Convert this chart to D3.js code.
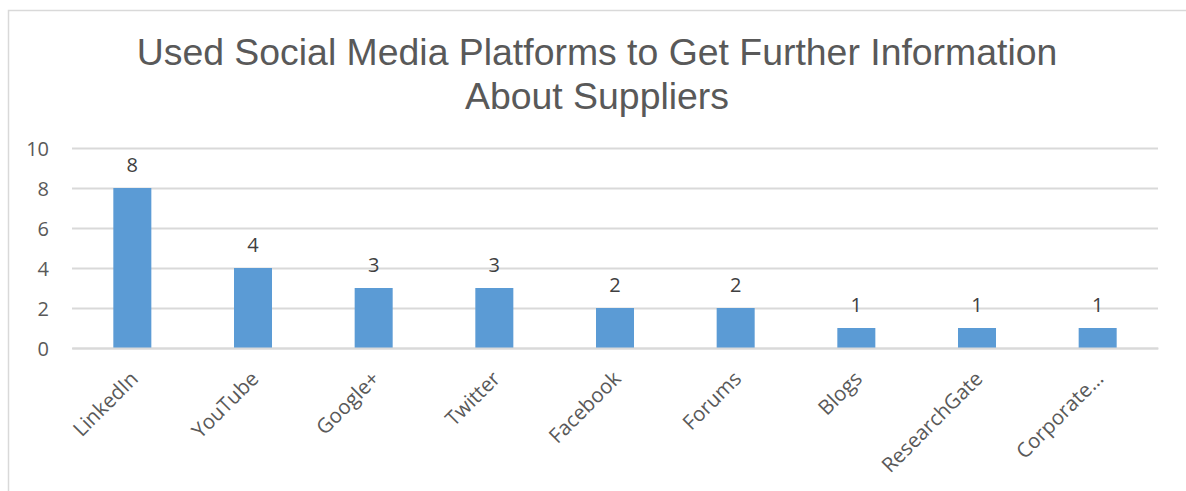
<!DOCTYPE html>
<html><head><meta charset="utf-8">
<script src="https://cdn.jsdelivr.net/npm/d3@7"></script>
<style>body{margin:0;background:#fff;} svg{display:block;}</style>
</head><body>
<script>
const categories = ["LinkedIn","YouTube","Google+","Twitter","Facebook","Forums","Blogs","ResearchGate","Corporate…"];
const values = [8,4,3,3,2,2,1,1,1];
const yTicks = [0,2,4,6,8,10];
const titleLines = ["Used Social Media Platforms to Get Further Information","About Suppliers"];

(function(){
const W = 1186, H = 491;
const svg = d3.select("body").append("svg").attr("width", W).attr("height", H);
svg.append("rect").attr("x",8.5).attr("y",10.5).attr("width",W+10).attr("height",H+10)
  .attr("fill","#fff").attr("stroke","#d9d9d9").attr("stroke-width",1.5);

const pL = 72, pR = 1158, pT = 148, pB = 348;
const x = d3.scaleBand().domain(categories).range([pL,pR]).paddingInner(0.685).paddingOuter(0.3425);
const y = d3.scaleLinear().domain([0,10]).range([pB,pT]);

const t = svg.append("text").attr("text-anchor","middle").attr("fill","#595959")
  .attr("font-family","'Liberation Sans', Arial, sans-serif").attr("font-size",37.4);
titleLines.forEach((l,i)=>t.append("tspan").attr("x",597).attr("y",65+i*44).text(l));

const yAxis = d3.axisLeft(y).tickValues(yTicks).tickSize(-(pR-pL)).tickPadding(20);
const gy = svg.append("g").attr("transform",`translate(${pL},0)`).call(yAxis);
gy.select(".domain").remove();
gy.selectAll(".tick line").attr("stroke","#d9d9d9").attr("stroke-width",2);
gy.selectAll(".tick text").attr("fill","#595959").attr("font-family","'Open Sans', sans-serif").attr("font-size",20).attr("text-anchor","end").attr("x",-23).attr("dy","0.36em");

svg.selectAll("rect.bar").data(values).join("rect").attr("class","bar")
  .attr("x",(d,i)=>x(categories[i])).attr("width",x.bandwidth())
  .attr("y",d=>y(d)).attr("height",d=>pB-y(d)).attr("fill","#5b9bd5");

svg.selectAll("text.lbl").data(values).join("text").attr("class","lbl")
  .attr("x",(d,i)=>x(categories[i])+x.bandwidth()/2).attr("y",d=>y(d)-16)
  .attr("text-anchor","middle").attr("fill","#404040")
  .attr("font-family","'Open Sans', sans-serif").attr("font-size",20).text(d=>d);

const xAxis = d3.axisBottom(x).tickSize(0).tickPadding(0);
const gx = svg.append("g").attr("transform",`translate(0,${pB})`).call(xAxis);
gx.select(".domain").attr("stroke","#d9d9d9").attr("stroke-width",2);
gx.selectAll(".tick text").attr("fill","#595959").attr("font-family","'Open Sans', sans-serif").attr("font-size",20.5)
  .attr("text-anchor","end").attr("dy",0).attr("transform","translate(7,32) rotate(-45)");
})();
</script>
</body></html>
